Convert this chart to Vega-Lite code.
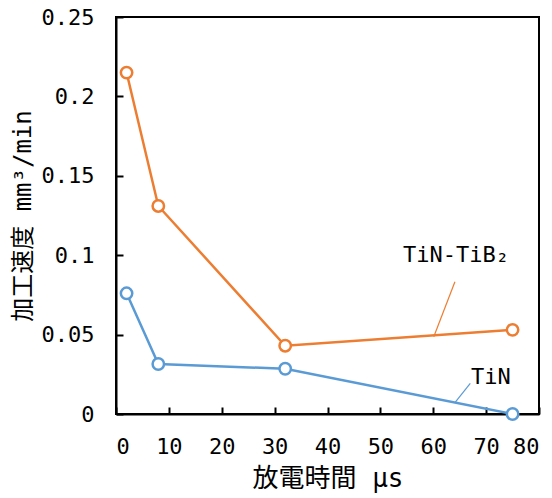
{
  "$schema": "https://vega.github.io/schema/vega-lite/v6.json",
  "width": 423,
  "height": 397,
  "padding": {"left": 11, "top": 6, "right": 5, "bottom": 5},
  "background": "white",
  "datasets": {
    "series": [
      {"time": 2, "rate": 0.215, "material": "TiN-TiB2"},
      {"time": 8, "rate": 0.131, "material": "TiN-TiB2"},
      {"time": 32, "rate": 0.043, "material": "TiN-TiB2"},
      {"time": 75, "rate": 0.053, "material": "TiN-TiB2"},
      {"time": 2, "rate": 0.076, "material": "TiN"},
      {"time": 8, "rate": 0.0315, "material": "TiN"},
      {"time": 32, "rate": 0.0285, "material": "TiN"},
      {"time": 75, "rate": 0.0, "material": "TiN"}
    ],
    "leaders": [
      {"x1": 64.1, "y1": 0.0833, "x2": 60.1, "y2": 0.0487, "material": "TiN-TiB2"},
      {"x1": 67.0, "y1": 0.0193, "x2": 64.1, "y2": 0.0071, "material": "TiN"}
    ],
    "labels": [
      {"x": 64.3, "y": 0.1001, "text": "TiN-TiB₂"},
      {"x": 70.9, "y": 0.0233, "text": "TiN"}
    ]
  },
  "layer": [
    {
      "data": {"name": "series"},
      "mark": {"type": "line", "strokeWidth": 2.5},
      "encoding": {
        "x": {"field": "time", "type": "quantitative", "scale": {"domain": [0, 80], "nice": false},
          "axis": {"values": [0, 10, 20, 30, 40, 50, 60, 70, 80], "title": "放電時間 μs", "titleFontSize": 26, "titlePadding": 8,
            "grid": false, "domain": true, "domainColor": "black", "domainWidth": 2,
            "ticks": true, "tickSize": -7, "tickWidth": 2, "tickColor": "black", "labelPadding": 29}},
        "y": {"field": "rate", "type": "quantitative", "scale": {"domain": [0, 0.25], "nice": false},
          "axis": {"values": [0, 0.05, 0.1, 0.15, 0.2, 0.25], "format": "~g", "title": "加工速度 mm³/min", "titleFontSize": 24, "titlePadding": 6,
            "grid": false, "domain": true, "domainColor": "black", "domainWidth": 2,
            "ticks": true, "tickSize": -7, "tickWidth": 2, "tickColor": "black", "labelPadding": 29}},
        "stroke": {"field": "material", "type": "nominal", "scale": {"domain": ["TiN-TiB2", "TiN"], "range": ["#ED7D31", "#5B9BD5"]}, "legend": null}
      }
    },
    {
      "data": {"name": "series"},
      "mark": {"type": "point", "filled": false, "fill": "white", "fillOpacity": 1, "strokeWidth": 2.5, "size": 130, "opacity": 1},
      "encoding": {
        "x": {"field": "time", "type": "quantitative"},
        "y": {"field": "rate", "type": "quantitative"},
        "stroke": {"field": "material", "type": "nominal", "legend": null}
      }
    },
    {
      "data": {"name": "leaders"},
      "mark": {"type": "rule", "strokeWidth": 1.2},
      "encoding": {
        "x": {"field": "x1", "type": "quantitative"},
        "y": {"field": "y1", "type": "quantitative"},
        "x2": {"field": "x2"},
        "y2": {"field": "y2"},
        "stroke": {"field": "material", "type": "nominal", "legend": null}
      }
    },
    {
      "data": {"name": "labels"},
      "mark": {"type": "text", "font": "DejaVu Sans Mono", "fontSize": 22, "color": "black", "align": "center", "baseline": "middle"},
      "encoding": {
        "x": {"field": "x", "type": "quantitative"},
        "y": {"field": "y", "type": "quantitative"},
        "text": {"field": "text"}
      }
    }
  ],
  "config": {
    "view": {"stroke": "black", "strokeWidth": 2},
    "axis": {
      "labelFont": "DejaVu Sans Mono",
      "labelFontSize": 22,
      "labelColor": "black",
      "titleFont": "DejaVu Sans Mono, Noto Sans CJK JP",
      "titleFontWeight": "normal",
      "titleColor": "black"
    }
  }
}
